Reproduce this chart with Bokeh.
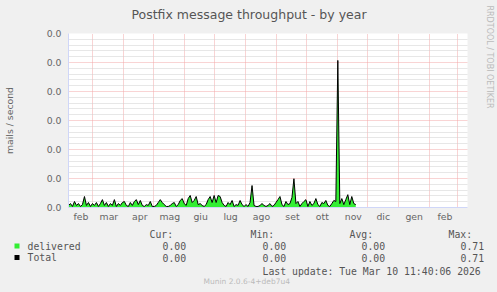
import math
from bokeh.plotting import figure
from bokeh.layouts import column, row
from bokeh.models import FixedTicker, Range1d, ColumnDataSource
from bokeh.core.properties import value
from bokeh.embed import file_html
from bokeh.resources import INLINE

# ---------------- data ----------------
# day numbers counted from 1 Jan 2025
month_starts = [31, 59, 90, 120, 151, 181, 212, 243, 273, 304, 334, 365, 396, 424]
month_names = ["feb", "mar", "apr", "mag", "giu", "lug", "ago", "set", "ott",
               "nov", "dic", "gen", "feb"]
view_start_day = 34.5
view_end_day = 434.5
first_sample_day = 34.5
sample_step_days = 2

delivered = [
    0.010, 0.019, 0.005, 0.029, 0.010, 0.019, 0.005, 0.014, 0.053, 0.010,
    0.024, 0.005, 0.019, 0.010, 0.024, 0.005, 0.019, 0.038, 0.010, 0.024,
    0.005, 0.019, 0.010, 0.038, 0.005, 0.019, 0.010, 0.024, 0.029,
    0.010, 0.005, 0.024, 0.010, 0.029, 0.038, 0.014, 0.034, 0.010, 0.005,
    0.014, 0.010, 0.029, 0.005, 0.005, 0.010, 0.024, 0.038, 0.024, 0.014,
    0.005, 0.005, 0.010, 0.019, 0.024, 0.005, 0.014, 0.034, 0.043, 0.019,
    0.010, 0.043, 0.058, 0.024, 0.034, 0.053, 0.014, 0.019, 0.010, 0.005,
    0.014, 0.038, 0.053, 0.024, 0.058, 0.024, 0.058, 0.053, 0.024, 0.010,
    0.005, 0.024, 0.014, 0.034, 0.005, 0.014, 0.010, 0.034, 0.014, 0.005,
    0.014, 0.005, 0.024, 0.106, 0.010, 0.005, 0.005, 0.010, 0.019, 0.010,
    0.005, 0.010, 0.019, 0.005, 0.010, 0.024, 0.038, 0.053, 0.014, 0.005,
    0.029, 0.014, 0.019, 0.048, 0.139, 0.019, 0.029, 0.005, 0.019, 0.029,
    0.038, 0.005, 0.029, 0.010, 0.019, 0.043, 0.014, 0.005, 0.024, 0.019,
    0.034, 0.010, 0.005, 0.019, 0.034, 0.029, 0.710, 0.019, 0.043, 0.014,
    0.038, 0.062, 0.014, 0.053, 0.019, 0.014,
]
total = list(delivered)

y_ticks = [0.0, 0.14, 0.28, 0.42, 0.56, 0.70, 0.84]
y_tick_labels = ["0.0", "0.0", "0.0", "0.0", "0.0", "0.0", "0.0"]

series_names = ["delivered", "Total"]
series_colors = ["#33EE33", "#000000"]
stat_headers = ["Cur:", "Min:", "Avg:", "Max:"]
stat_values = [["0.00", "0.00", "0.00", "0.71"],
               ["0.00", "0.00", "0.00", "0.71"]]
last_update = "Last update: Tue Mar 10 11:40:06 2026"
title_text = "Postfix message throughput - by year"
y_title = "mails / second"
watermark = "RRDTOOL / TOBI OETIKER"
version_text = "Munin 2.0.6-4+deb7u4"

# ---------------- layout constants (canvas pixels) ----------------
W, H = 497, 292
FL, FT, FW, FH = 67, 33, 400, 175
FB = FT + FH
TOP_H = 224          # title + chart block
TITLE_H = 26         # title strip
RW = 24              # right watermark strip width
LW = W - RW          # width of title / chart
LEG_H = H - TOP_H
BG = "#F0F0F0"
AX = "#CFD6F8"
FONT = "#666666"
TXT = "#555555"
MAJ = "#F2A8A8"
MIN = "#CFCFCF"


def strip(w, h, x0, y0):
    f = figure(width=w, height=h, output_backend="svg", toolbar_location=None,
               x_range=Range1d(x0, x0 + w), y_range=Range1d(y0 + h, y0),
               min_border=0, min_border_left=0, min_border_right=0,
               min_border_top=0, min_border_bottom=0,
               background_fill_color=BG, border_fill_color=BG,
               outline_line_color=None, x_axis_type=None, y_axis_type=None)
    f.frame_align = False
    f.grid.visible = False
    return f


# ---------------- title strip ----------------
t = strip(LW, TITLE_H, 0, 0)
t.text(x=[W / 2], y=[13.5], text=[title_text], text_font=value("DejaVu Sans"),
       text_font_size=value("12.5px"), text_color=TXT,
       text_align="center", text_baseline="middle")

# ---------------- watermark strip ----------------
r = strip(RW, TOP_H, LW, 0)
r.text(x=[489], y=[56.5], text=[watermark], text_font=value("DejaVu Sans"),
       text_font_size=value("8px"), text_color="#BBBBBB",
       text_align="center", text_baseline="middle", angle=-math.pi / 2)

# ---------------- chart ----------------
days = [first_sample_day + i * sample_step_days for i in range(len(delivered))]
src = ColumnDataSource(dict(x=days, d=delivered, t=total))

p = figure(width=LW, height=TOP_H - TITLE_H, output_backend="svg",
           toolbar_location=None,
           x_range=Range1d(view_start_day, view_end_day),
           y_range=Range1d(y_ticks[0], y_ticks[-1]),
           min_border_left=FL, min_border_right=LW - FL - FW,
           min_border_top=FT - TITLE_H, min_border_bottom=TOP_H - FB,
           background_fill_color="white", border_fill_color=BG,
           outline_line_color=None)
p.frame_align = False

# y axis
yax = p.yaxis[0]
minor = []
for a, b in zip(y_ticks[:-1], y_ticks[1:]):
    for k in range(1, 5):
        minor.append(a + (b - a) * k / 5)
yax.ticker = FixedTicker(ticks=y_ticks, minor_ticks=minor)
yax.major_label_overrides = {tk: lb for tk, lb in zip(y_ticks, y_tick_labels)}
yax.axis_line_color = AX
yax.major_tick_line_color = None
yax.minor_tick_line_color = None
yax.major_tick_out = 0
yax.minor_tick_out = 0
yax.major_tick_in = 0
yax.major_label_standoff = 7
yax.major_label_text_font = "DejaVu Sans"
yax.major_label_text_font_size = "9.3px"
yax.major_label_text_color = FONT
yax.axis_label = y_title
yax.axis_label_standoff = 29
yax.axis_label_text_font = "DejaVu Sans"
yax.axis_label_text_font_size = "9.3px"
yax.axis_label_text_font_style = "normal"
yax.axis_label_text_color = FONT

# x axis
xax = p.xaxis[0]
label_days = [m + 16 for m in month_starts[:len(month_names)]]
xax.ticker = FixedTicker(ticks=label_days)
xax.major_label_overrides = {d: n for d, n in zip(label_days, month_names)}
xax.axis_line_color = AX
xax.major_tick_line_color = None
xax.minor_tick_line_color = None
xax.major_tick_out = 0
xax.minor_tick_out = 0
xax.major_tick_in = 0
xax.major_label_standoff = 3
xax.major_label_text_font = "DejaVu Sans"
xax.major_label_text_font_size = "9.3px"
xax.major_label_text_color = FONT

# grids
p.xgrid.ticker = FixedTicker(ticks=month_starts[1:])
p.xgrid.grid_line_color = MAJ
p.xgrid.grid_line_dash = "1 1"
p.ygrid.grid_line_color = MAJ
p.ygrid.grid_line_dash = "1 1"
p.ygrid.minor_grid_line_color = MIN
p.ygrid.minor_grid_line_dash = "1 1"

# data
p.varea(x="x", y1=0, y2="d", source=src, fill_color=series_colors[0])
p.line(x="x", y="t", source=src, line_color=series_colors[1], line_width=1)

# ---------------- legend strip ----------------
q = strip(W, LEG_H, 0, TOP_H)

MONO = value("DejaVu Sans Mono")
MS = value("9.8px")
header_x = [149, 250, 349, 448]
value_x = [162, 262, 361, 460]
header_y = 233.5
row_y = [245.5, 257]

tx, ty, tt = [], [], []
for h, hx in zip(stat_headers, header_x):
    tx.append(hx); ty.append(header_y); tt.append(h)
for name, vals, ry in zip(series_names, stat_values, row_y):
    tx.append(27); ty.append(ry); tt.append(name)
    for v, vx in zip(vals, value_x):
        tx.append(vx); ty.append(ry); tt.append(v)
tx.append(262); ty.append(270.5); tt.append(last_update)
q.text(x=tx, y=ty, text=tt, text_font=MONO, text_font_size=MS,
       text_color=TXT, text_baseline="middle", text_align="left")
q.text(x=[203], y=[281], text=[version_text],
       text_font=value("DejaVu Sans"), text_font_size=value("7.5px"),
       text_color="#BBBBBB", text_baseline="middle", text_align="left")
q.quad(left=[14, 14], right=[19, 19],
       top=[ry - 2.5 for ry in row_y], bottom=[ry + 2.5 for ry in row_y],
       fill_color=series_colors, line_color=None)

layout = column(row(column(t, p, spacing=0), r, spacing=0), q, spacing=0)
layout.styles = {"background-color": BG}
open("out.html", "w").write(file_html(layout, INLINE))
